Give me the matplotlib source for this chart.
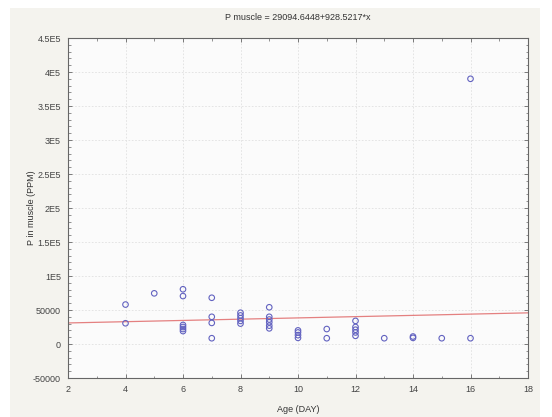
import matplotlib
matplotlib.use("Agg")
import matplotlib.pyplot as plt
from matplotlib.patches import Rectangle
from matplotlib.ticker import MultipleLocator
import numpy as np

plt.rcParams['font.family'] = ['Liberation Sans', 'DejaVu Sans']

age = [4, 4,
       5,
       6, 6, 6, 6, 6, 6,
       7, 7, 7, 7,
       8, 8, 8, 8, 8,
       9, 9, 9, 9, 9, 9,
       10, 10, 10, 10,
       11, 11,
       12, 12, 12, 12, 12,
       13,
       14, 14,
       15,
       16, 16]
p_muscle = [58000, 30500,
            74500,
            80500, 70500, 28000, 25000, 22000, 19000,
            68000, 40000, 31000, 8500,
            46000, 42000, 38000, 34000, 30000,
            54000, 40000, 36000, 32000, 27000, 23000,
            20000, 17000, 13000, 9000,
            22000, 8500,
            34000, 25000, 21000, 17000, 12000,
            8500,
            11000, 9000,
            8500,
            8500, 390000]

intercept = 29094.6448
slope = 928.5217
title = "P muscle = 29094.6448+928.5217*x"
xlabel = "Age (DAY)"
ylabel = "P in muscle (PPM)"
yticks = [-50000, 0, 50000, 100000, 150000, 200000, 250000, 300000, 350000, 400000, 450000]
yticklabels = ["-50000", "0", "50000", "1E5", "1.5E5", "2E5", "2.5E5", "3E5", "3.5E5", "4E5", "4.5E5"]
xticks = [2, 4, 6, 8, 10, 12, 14, 16, 18]

W, H = 552, 417
fig = plt.figure(figsize=(W / 100, H / 100), dpi=100, facecolor='white')
bg = Rectangle((10 / W, 0), 530 / W, (H - 8) / H, transform=fig.transFigure,
               facecolor='#f4f3ee', edgecolor='none', zorder=-10)
fig.add_artist(bg)

ax = fig.add_axes([68 / W, (H - 378) / H, 460 / W, 340 / H])
ax.set_zorder(1)
ax.set_facecolor('#fbfbfb')

ax.scatter(age, p_muscle, s=16, facecolors='none', edgecolors='#6262c0', linewidths=0.8, zorder=3)
xl = np.array([2, 18])
ax.plot(xl, intercept + slope * xl, color='#e48080', lw=0.9, zorder=2)

ax.set_xlim(2, 18)
ax.set_ylim(-50000, 450000)
ax.set_xticks(xticks)
ax.set_xticklabels([str(t) for t in xticks])
ax.set_yticks(yticks)
ax.set_yticklabels(yticklabels)
ax.xaxis.set_minor_locator(MultipleLocator(1))
ax.yaxis.set_minor_locator(MultipleLocator(10000))

ax.grid(True, which='major', color='#e0e0e0', linestyle=(0, (2, 2)), linewidth=0.6)
ax.tick_params(which='both', direction='in', top=True, right=True, colors='#666666',
               labelcolor='#444444', labelsize=6.5)
ax.tick_params(which='major', length=3, width=0.6, pad=5)
ax.tick_params(which='minor', length=1.8, width=0.5)
for s in ax.spines.values():
    s.set_color('#666666')
    s.set_linewidth(0.8)

ax.set_title(title, fontsize=6.5, color='#333333', pad=13)
ax.set_xlabel(xlabel, fontsize=6.5, color='#333333')
ax.set_ylabel(ylabel, fontsize=6.5, color='#333333')
ax.xaxis.set_label_coords(0.5, -27 / 340)
ax.yaxis.set_label_coords(-32 / 460, 0.5)

fig.savefig("out.png", dpi=100, facecolor=fig.get_facecolor())
